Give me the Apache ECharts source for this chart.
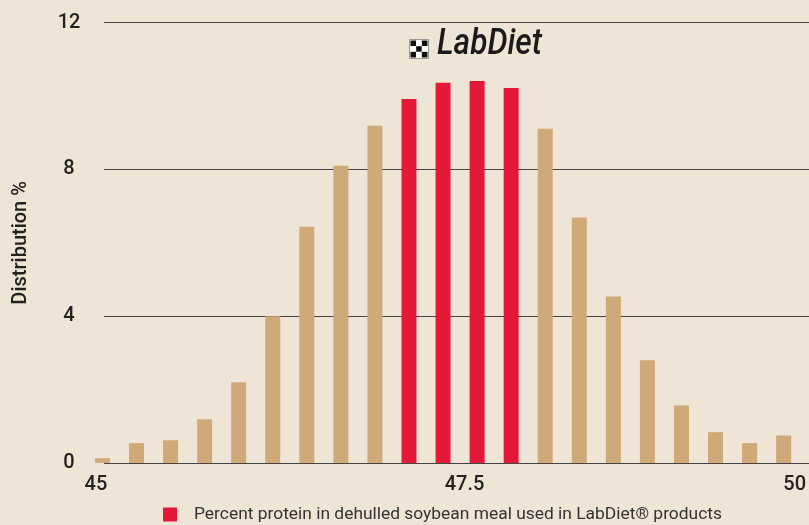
<!DOCTYPE html>
<html>
<head>
<meta charset="utf-8">
<script src="https://cdn.jsdelivr.net/npm/echarts@6/dist/echarts.min.js"></script>
<style>
html,body{margin:0;padding:0;background:#EEE5D7;}
#chart{width:809px;height:525px;}
</style>
</head>
<body>
<div id="chart"></div>
<script>
// Protein percentage categories (0.25 steps)
const categories = ['45','45.25','45.5','45.75','46','46.25','46.5','46.75','47','47.25','47.5','47.75','48','48.25','48.5','48.75','49','49.25','49.5','49.75','50'];
// Distribution % for each category
const distribution = [0.13,0.54,0.62,1.19,2.2,4.0,6.44,8.1,9.19,9.92,10.36,10.41,10.22,9.11,6.69,4.54,2.8,1.57,0.84,0.54,0.75];
// Categories drawn in red (LabDiet range)
const highlighted = ['47.25','47.5','47.75','48'];
// Tick labels shown on the x axis
const xTickLabels = ['45','47.5','50'];
const legendLabel = 'Percent protein in dehulled soybean meal used in LabDiet® products';

const TAN = '#D0A978', RED = '#E31937';
const tanData = categories.map((c,i)=> highlighted.includes(c) ? '-' : distribution[i]);
const redData = categories.map((c,i)=> highlighted.includes(c) ? distribution[i] : '-');

const chart = echarts.init(document.getElementById('chart'), null, {renderer:'canvas'});
const FONT = 'Roboto';
const labelShift = {'45':'a','47.5':'b','50':'c'};

// logo checker cells
const checker = [];
const cs = 17/3;
for (let r=0;r<3;r++) for (let c=0;c<3;c++) {
  checker.push({type:'rect', shape:{x:1+c*cs, y:1+r*cs, width:cs, height:cs},
    style:{fill: ((r+c)%2===0) ? '#111' : '#fff'}});
}
const tick = {fontSize:20, color:'#222', fontFamily:FONT, fontWeight:500};

chart.setOption({
  backgroundColor:'#EEE5D7',
  animation:false,
  textStyle:{fontFamily:FONT},
  grid:[
    {left:85.4, right:7, top:22.7, bottom:62},
    {left:104, right:0, top:22.7, bottom:62}
  ],
  xAxis:[
    {type:'category', gridIndex:0, data:categories,
     axisLine:{show:false}, axisTick:{show:false},
     axisLabel:Object.assign({interval:0, margin:12,
       formatter:(v)=> xTickLabels.includes(v) ? '{'+labelShift[v]+'|'+v+'}' : '',
       rich:{
         a:Object.assign({padding:[0,13,0,0]}, tick),
         b:Object.assign({padding:[0,0,0,43]}, tick),
         c:Object.assign({padding:[0,0,0,22]}, tick)
       }}, tick)},
    {type:'value', gridIndex:1, show:false, min:0, max:1}
  ],
  yAxis:[
    {type:'value', gridIndex:0, min:0, max:12, interval:4, show:false},
    {type:'value', gridIndex:1, min:0, max:12, interval:4,
     axisLine:{show:false}, axisTick:{show:false},
     splitLine:{show:true, lineStyle:{color:'#444', width:1.2}},
     axisLabel:Object.assign({align:'center', margin:35}, tick),
     name:'Distribution %', nameLocation:'middle', nameGap:73,
     nameTextStyle:{fontSize:20, color:'#222', fontFamily:FONT, fontWeight:500}}
  ],
  legend:{
    data:[legendLabel], left:163, top:506, padding:0,
    icon:'rect', itemWidth:14, itemHeight:14,
    textStyle:{fontSize:17.4, color:'#333', fontFamily:FONT, padding:[0,0,0,12]}
  },
  series:[
    {name:'Other', type:'bar', xAxisIndex:0, yAxisIndex:0, data:tanData, barWidth:15, barGap:'-100%',
     itemStyle:{color:TAN}, silent:true},
    {name:legendLabel, type:'bar', xAxisIndex:0, yAxisIndex:0, data:redData, barWidth:15, barGap:'-100%',
     itemStyle:{color:RED}, silent:true}
  ],
  graphic:[
    {type:'group', left:409, top:39, children:[
      {type:'rect', shape:{x:0,y:0,width:19,height:19}, style:{fill:'#fff', stroke:'#999', lineWidth:1}},
      ...checker
    ]},
    {type:'text', left:437, top:27, scaleX:0.88,
     style:{text:'LabDiet', font:'italic 500 36px Roboto', fill:'#1a1a1a'}}
  ]
});
</script>
</body>
</html>
